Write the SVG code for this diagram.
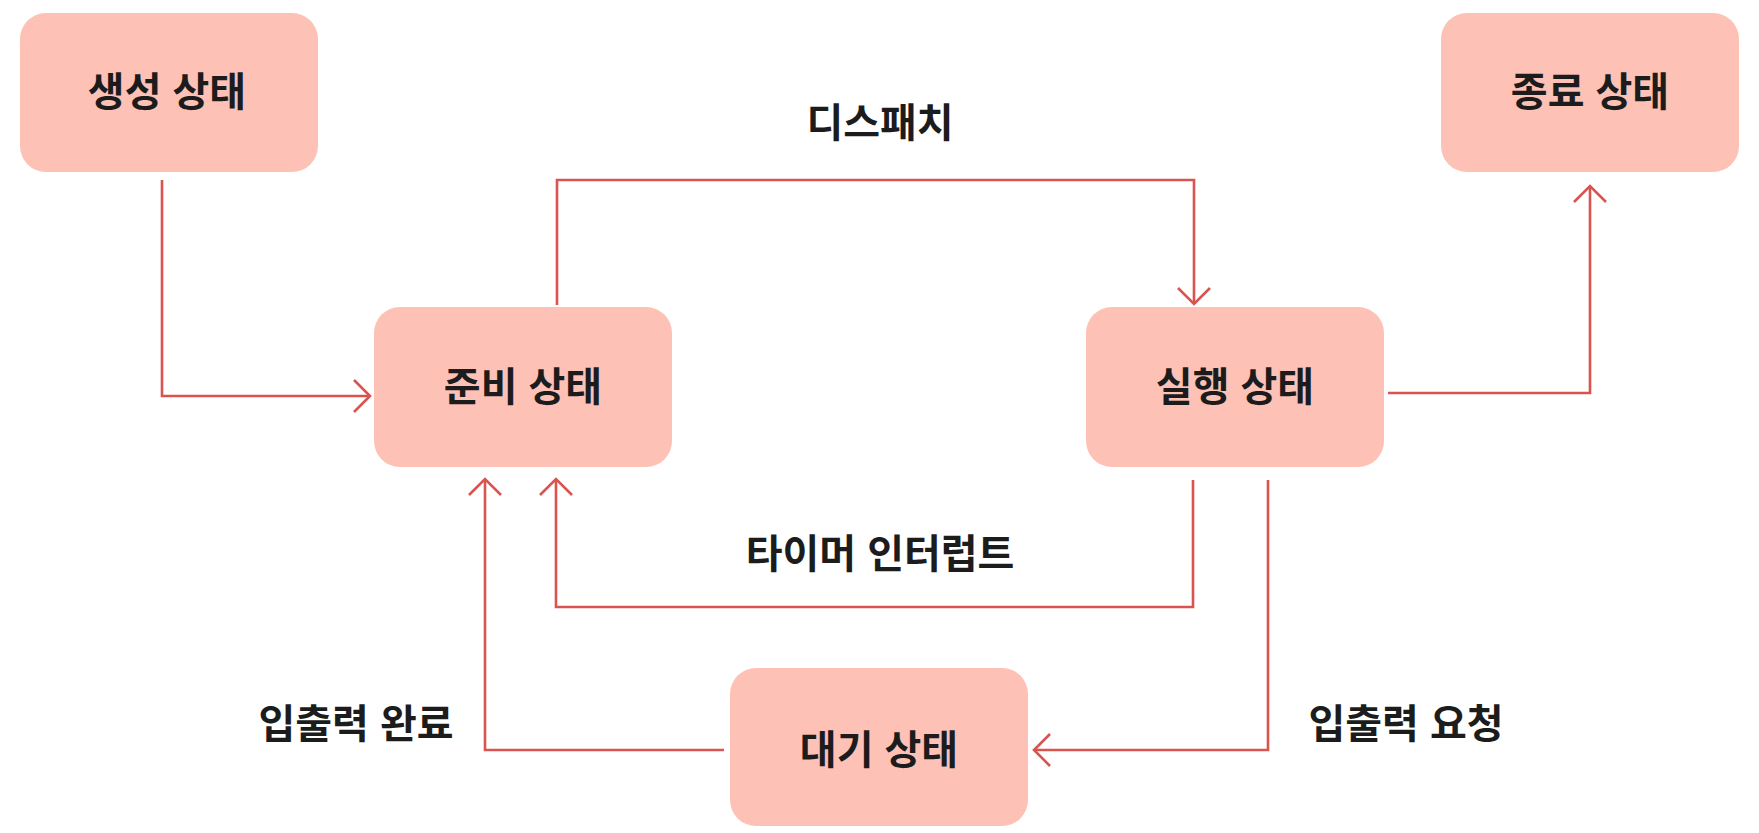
<svg xmlns="http://www.w3.org/2000/svg" width="1759" height="833" viewBox="0 0 1759 833">
<style>
.node rect{fill:#FDC1B6;}
.node text{font-family:"Liberation Sans","Noto Sans CJK KR",sans-serif;font-size:40px;font-weight:700;fill:#1c1c1c;text-anchor:middle;dominant-baseline:central;}
.lbl{font-family:"Liberation Sans","Noto Sans CJK KR",sans-serif;font-size:40px;font-weight:600;fill:#1c1c1c;text-anchor:middle;dominant-baseline:central;}
.conn path{fill:none;stroke:#D9534F;stroke-width:2.6;stroke-linejoin:miter;}
</style>
<defs>
<marker id="arr" viewBox="0 0 20 36" refX="18" refY="18" markerWidth="20" markerHeight="36" markerUnits="userSpaceOnUse" orient="auto">
<path d="M2,2 L18,18 L2,34" fill="none" stroke="#D9534F" stroke-width="2.6"/>
</marker>
</defs>
<rect width="1759" height="833" fill="#ffffff"/>
<g id="n-create" class="node"><rect x="20" y="13" width="298" height="159" rx="26"/><text x="167" y="92">생성 상태</text></g>
<g id="n-exit" class="node"><rect x="1441" y="13" width="298" height="159" rx="26"/><text x="1590" y="92">종료 상태</text></g>
<g id="n-ready" class="node"><rect x="374" y="307" width="298" height="160" rx="26"/><text x="523" y="387">준비 상태</text></g>
<g id="n-run" class="node"><rect x="1086" y="307" width="298" height="160" rx="26"/><text x="1235" y="387">실행 상태</text></g>
<g id="n-wait" class="node"><rect x="730" y="668" width="298" height="158" rx="26"/><text x="879" y="750">대기 상태</text></g>
<g id="connectors" class="conn">
<path d="M162,180 V396 H370" marker-end="url(#arr)"/>
<path d="M557,305 V180 H1194 V304" marker-end="url(#arr)"/>
<path d="M1388,393 H1590 V186" marker-end="url(#arr)"/>
<path d="M1193,480 V607 H556 V479" marker-end="url(#arr)"/>
<path d="M1268,480 V750 H1034" marker-end="url(#arr)"/>
<path d="M724,750 H485 V479" marker-end="url(#arr)"/>
</g>
<g id="labels">
<text class="lbl" x="880" y="123">디스패치</text>
<text class="lbl" x="880" y="554">타이머 인터럽트</text>
<text class="lbl" x="1406" y="724">입출력 요청</text>
<text class="lbl" x="356" y="724">입출력 완료</text>
</g>
</svg>
